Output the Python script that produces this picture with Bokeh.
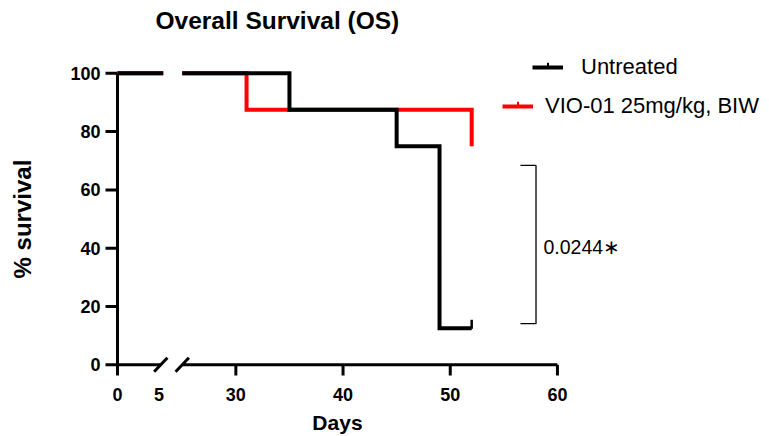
import math
from bokeh.plotting import figure
from bokeh.models import Legend, LegendItem, Range1d
from bokeh.embed import file_html
from bokeh.resources import INLINE
from bokeh.core.properties import value

# ---------------- data ----------------
untreated_days = [0, 35, 45, 49, 52]
untreated_surv = [100, 87.5, 75, 12.5, 12.5]
untreated_censor_days = [52]
untreated_censor_surv = [12.5]

vio_days = [0, 31, 52]
vio_surv = [100, 87.5, 75]

x_tick_days = [0, 5, 30, 40, 50, 60]
x_tick_labels = ["0", "5", "30", "40", "50", "60"]
y_ticks = [0, 20, 40, 60, 80, 100]
y_tick_labels = ["0", "20", "40", "60", "80", "100"]

series_names = ["Untreated", "VIO-01 25mg/kg, BIW"]
p_value = "0.0244"
title_text = "Overall Survival (OS)"
x_title = "Days"
y_title = "% survival"

# ---------------- broken-axis layout ----------------
FONT = "Liberation Sans"
PX_PER_DAY = 10.72          # second axis segment scale
SEG1_SCALE = 0.776          # first segment compressed
BREAK_LO = 5.5              # data line stops (days) on first segment
AXIS_BREAK_LO = 5.2         # axis line stops (days) on first segment
BREAK_HI = 25               # second segment starts (days)
X0 = 18.96                  # axis position of day 0


def u(d):
    return X0 + SEG1_SCALE * d if d <= BREAK_LO else d


def step_path(days, surv):
    xs, ys = [days[0]], [surv[0]]
    for i in range(1, len(days)):
        xs += [days[i], days[i]]
        ys += [surv[i - 1], surv[i]]
    out_x, out_y = [], []
    for i in range(len(xs)):
        if i > 0 and xs[i - 1] <= BREAK_LO and xs[i] >= BREAK_HI:
            out_x += [u(BREAK_LO), float("nan"), BREAK_HI]
            out_y += [ys[i - 1], float("nan"), ys[i]]
        out_x.append(u(xs[i]))
        out_y.append(ys[i])
    return out_x, out_y


W, H = 769, 436
AXIS_LEFT = 117                      # page x of the y axis
PX_PER_PCT = 2.915
ZERO_Y = 364.3                       # page y of 0 %
y_start = -(H - ZERO_Y) / PX_PER_PCT
y_end = y_start + H / PX_PER_PCT
x_start = X0 - AXIS_LEFT / PX_PER_DAY
x_end = x_start + W / PX_PER_DAY


def py(page_y):                      # page y (px) -> % units
    return (ZERO_Y - page_y) / PX_PER_PCT


def px(page_x):                      # page x (px) -> axis units
    return X0 + (page_x - AXIS_LEFT) / PX_PER_DAY


p = figure(width=W, height=H, output_backend="svg", toolbar_location=None,
           x_range=Range1d(x_start, x_end), y_range=Range1d(y_start, y_end),
           x_axis_location=None, y_axis_location=None, title=None,
           min_border_left=0, min_border_right=0, min_border_top=0, min_border_bottom=0,
           outline_line_color=None, background_fill_color="white")
p.grid.visible = False

# title
p.text(x=[px(155)], y=[py(20)], text=[title_text], text_baseline="middle", text_align="left",
       text_font=value(FONT), text_font_style="bold", text_font_size="24.5px", text_color="black")

# y axis: line, ticks, labels, title
tick_bot = py(375)
p.segment(x0=[X0], y0=[tick_bot], x1=[X0], y1=[100], line_width=3, line_color="black")
p.segment(x0=[px(AXIS_LEFT - 12)] * len(y_ticks), y0=y_ticks, x1=[X0] * len(y_ticks), y1=y_ticks,
          line_width=3, line_color="black")
p.text(x=[px(AXIS_LEFT - 17)] * len(y_ticks), y=y_ticks, text=y_tick_labels,
       text_baseline="middle", text_align="right", text_font=value(FONT),
       text_font_style="bold", text_font_size="18px", text_color="black")
p.text(x=[px(22)], y=[(y_ticks[0] + y_ticks[-1]) / 2], text=[y_title], angle=math.pi / 2,
       text_baseline="middle", text_align="center", text_font=value(FONT),
       text_font_style="bold", text_font_size="24px", text_color="black")

# broken x axis: line, ticks, break marks, tick labels, title
p.segment(x0=[X0, BREAK_HI], y0=[0, 0], x1=[u(AXIS_BREAK_LO), 60], y1=[0, 0],
          line_width=3, line_color="black")
tick_x = [u(d) for d in x_tick_days if d not in (0, 5)]
p.segment(x0=tick_x, y0=[0] * len(tick_x), x1=tick_x, y1=[tick_bot] * len(tick_x),
          line_width=3, line_color="black")
brk = [u(AXIS_BREAK_LO), BREAK_HI]
p.segment(x0=[c - 0.62 for c in brk], y0=[-2.4] * 2, x1=[c + 0.62 for c in brk], y1=[2.4] * 2,
          line_width=3, line_color="black")
p.text(x=[u(d) for d in x_tick_days], y=[py(394)] * len(x_tick_days), text=x_tick_labels,
       text_baseline="middle", text_align="center", text_font=value(FONT),
       text_font_style="bold", text_font_size="18px", text_color="black")
p.text(x=[(X0 + 60) / 2], y=[py(421.5)], text=[x_title], text_baseline="middle",
       text_align="center", text_font=value(FONT), text_font_style="bold",
       text_font_size="21px", text_color="black")

# survival curves
vx, vy = step_path(vio_days, vio_surv)
ux, uy = step_path(untreated_days, untreated_surv)
r_red = p.line(vx, vy, line_width=4, line_color="#ff0000", line_join="miter")
r_blk = p.line(ux, uy, line_width=4, line_color="black", line_join="miter")
CENSOR_RISE = 1.4
p.scatter([u(d) for d in untreated_censor_days], [s + CENSOR_RISE for s in untreated_censor_surv],
          marker="dash", angle=math.pi / 2, size=9, line_width=2.5, line_color="black")

# legends (line key with a small censor tick above its middle)
LEG_PX = [(415, 80, 18), (385, 119, 12)]   # (x from axis, bottom y on page, label standoff)
for label, rend, (lx, lyc, stand), col in [(series_names[0], r_blk, LEG_PX[0], "black"),
                                           (series_names[1], r_red, LEG_PX[1], "#ff0000")]:
    ly = H - lyc
    leg = Legend(items=[LegendItem(label=label, renderers=[rend])], location=(AXIS_LEFT + lx, ly),
                 padding=0, margin=0, spacing=0, border_line_color=None,
                 background_fill_alpha=0, glyph_width=31, glyph_height=24, label_height=24,
                 label_standoff=stand, label_text_font=FONT, label_text_font_size="22px",
                 label_text_color="black")
    p.add_layout(leg, "center")
    cx = px(AXIS_LEFT + lx + 15.5)
    cy = py(lyc - 12)
    p.segment(x0=[cx], y0=[cy], x1=[cx], y1=[cy + 2.0], line_width=2, line_color=col)

# significance bracket
BR_X, BR_ARM, BR_TOP, BR_BOT = 58.0, 56.55, 68.4, 14.1
p.line([BR_ARM, BR_X, BR_X, BR_ARM], [BR_TOP, BR_TOP, BR_BOT, BR_BOT],
       line_width=1.3, line_color="black")
p.text(x=[58.7], y=[(BR_TOP + BR_BOT) / 2 - 0.9], text=[p_value + "\u2217"],
       text_baseline="middle", text_align="left", text_font=value(FONT),
       text_font_size="19.5px", text_color="black")

open("out.html", "w").write(file_html(p, INLINE))
